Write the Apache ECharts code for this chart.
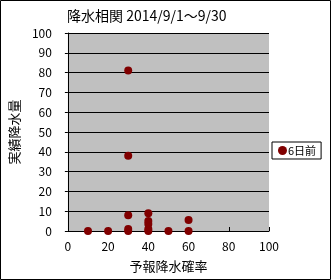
<!DOCTYPE html>
<html><head><meta charset="utf-8">
<script src="https://cdn.jsdelivr.net/npm/echarts@6/dist/echarts.min.js"></script>
<style>html,body{margin:0;padding:0;background:#fff}#c{width:331px;height:280px}</style>
</head><body><div id="c"></div>
<script>
const seriesName = '6日前';
const xProb = [10, 20, 30, 30, 30, 30, 30, 40, 40, 40, 40, 40, 50, 60, 60];
const yRain = [0, 0, 81, 38, 8, 1, 0, 9, 5, 3.5, 1, 0, 0, 5.5, 0];
const xTicks = [0, 20, 40, 60, 80, 100];
const yTicks = [0, 10, 20, 30, 40, 50, 60, 70, 80, 90, 100];
const font = '"Noto Sans CJK JP", sans-serif';
const chart = echarts.init(document.getElementById('c'));
chart.setOption({
  animation: false,
  backgroundColor: '#fff',
  textStyle: {fontFamily: font},
  graphic: [{type: 'rect', shape: {x: 0.5, y: 0.5, width: 330, height: 279}, style: {fill: 'none', stroke: '#000', lineWidth: 1}, z: 100}],
  title: {text: '降水相関 2014/9/1～9/30', left: 67, top: 9, padding: 0,
    textStyle: {fontSize: 14, fontWeight: 'normal', color: '#000', fontFamily: font}},
  legend: {data: [{name: seriesName, icon: 'circle'}], left: 272, top: 142, orient: 'vertical',
    backgroundColor: '#fff', borderColor: '#000', borderWidth: 1, borderRadius: 0,
    padding: [3, 5, 3, 6], itemWidth: 9, itemHeight: 9, itemGap: 0,
    textStyle: {fontSize: 11, color: '#000', fontFamily: font, padding: [0, 0, 0, -4]}},
  grid: {left: 59, top: 33, width: 210, height: 198, backgroundColor: '#c0c0c0', show: true, borderWidth: 0},
  xAxis: {type: 'value', min: xTicks[0], max: xTicks[xTicks.length - 1], interval: 20,
    name: '予報降水確率', nameLocation: 'middle', nameGap: 29,
    nameTextStyle: {fontSize: 13, color: '#000', fontFamily: font},
    axisLine: {show: true, lineStyle: {color: '#000', width: 1}},
    axisTick: {show: true, inside: true, length: 4, lineStyle: {color: '#000'}},
    axisLabel: {fontSize: 12, color: '#000', margin: 9, fontFamily: font},
    splitLine: {show: false}},
  yAxis: {type: 'value', min: yTicks[0], max: yTicks[yTicks.length - 1], interval: 10,
    name: '実績降水量', nameLocation: 'middle', nameGap: 37, nameRotate: 90,
    nameTextStyle: {fontSize: 13, color: '#000', fontFamily: font},
    axisLine: {show: true, lineStyle: {color: '#000', width: 1}},
    axisTick: {show: true, length: 3, lineStyle: {color: '#000'}},
    axisLabel: {fontSize: 12, color: '#000', margin: 16, fontFamily: font},
    splitLine: {show: true, lineStyle: {color: '#000', width: 1}}},
  series: [{name: seriesName, type: 'scatter', symbol: 'circle', symbolSize: 8,
    itemStyle: {color: '#800000', opacity: 1},
    data: xProb.map((x, i) => [x, yRain[i]])}]
});
</script></body></html>
